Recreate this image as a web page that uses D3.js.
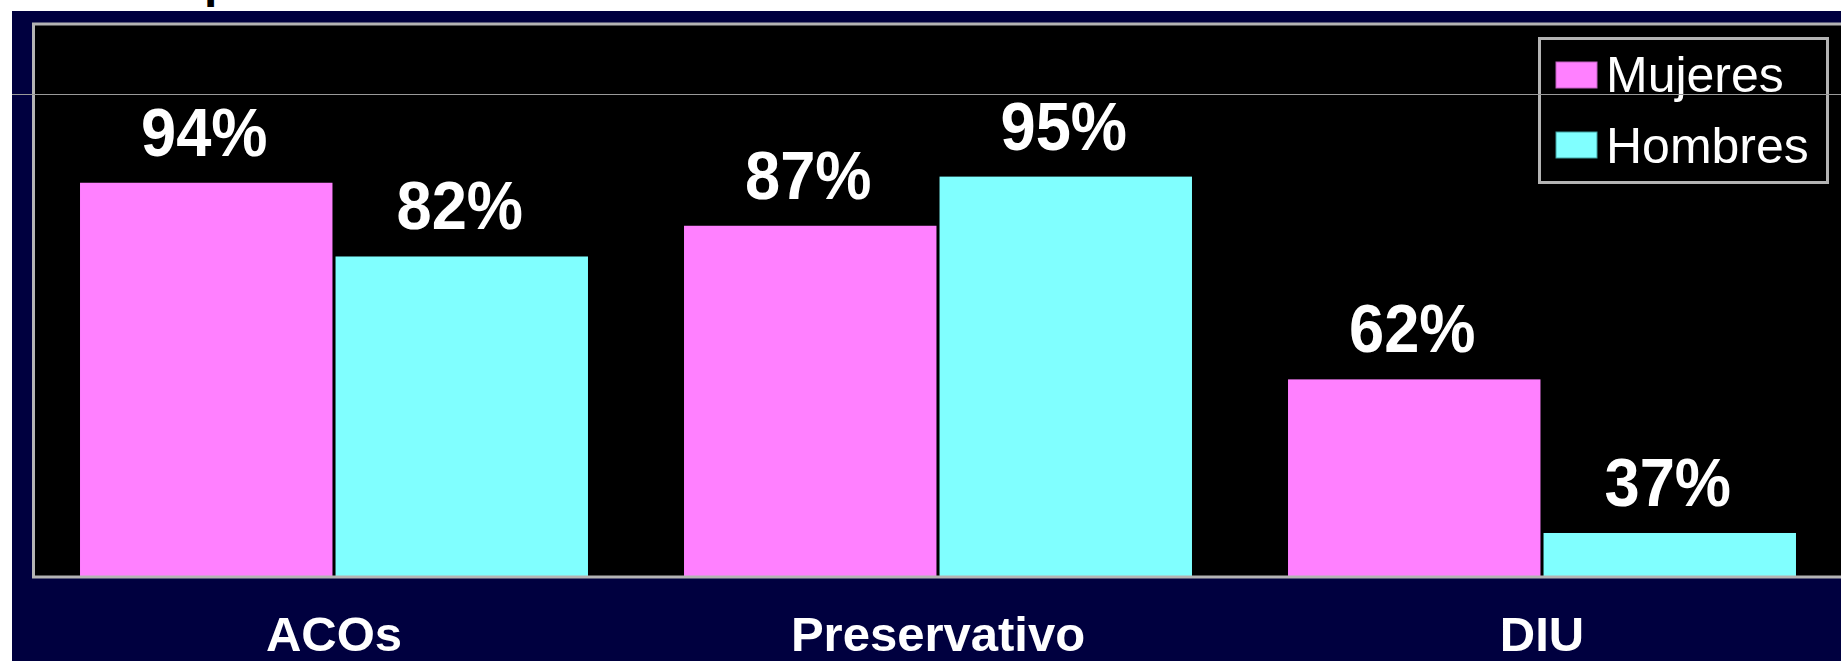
<!DOCTYPE html>
<html>
<head>
<meta charset="utf-8">
<script src="https://cdn.jsdelivr.net/npm/d3@7"></script>
<style>
  html, body { margin: 0; padding: 0; background: #ffffff; overflow: hidden; }
  svg { display: block; font-family: "Liberation Sans", Arial, sans-serif; }
</style>
</head>
<body>
<svg id="chart" width="1841" height="661"></svg>
<script>
// ---- data ----
const categories = ["ACOs", "Preservativo", "DIU"];
const seriesNames = ["Mujeres", "Hombres"];
const mujeres = [94, 87, 62];
const hombres = [82, 95, 37];
const valueLabels = [["94%", "87%", "62%"], ["82%", "95%", "37%"]];
const yDomain = [30, 120];

// ---- setup ----
const W = 1841, H = 661;
const colors = { Mujeres: "#ff80ff", Hombres: "#80ffff" };
const svg = d3.select("#chart");

// page backgrounds
svg.append("rect").attr("x", 0).attr("y", 0).attr("width", W).attr("height", H).attr("fill", "#ffffff");
// cut-off title descender
svg.append("text").attr("x", 204).attr("y", -3)
  .attr("font-size", 48).attr("font-weight", "bold").attr("fill", "#000").text("p");
svg.append("rect").attr("x", 12).attr("y", 11).attr("width", W - 12).attr("height", H - 11).attr("fill", "#00003f");

const plot = { left: 32, right: 1844, top: 23, bottom: 576 };

// plot area
svg.append("rect").attr("x", plot.left).attr("y", plot.top)
  .attr("width", plot.right - plot.left).attr("height", plot.bottom - plot.top)
  .attr("fill", "#000000");

const x0 = d3.scaleBand().domain(categories).range([plot.left, plot.right])
  .paddingInner(0.159).paddingOuter(0.0795);
const x1 = d3.scaleBand().domain(seriesNames).range([0, x0.bandwidth()]).paddingInner(0.012);
const y = d3.scaleLinear().domain(yDomain).range([plot.bottom, plot.top]);

const rows = categories.map((c, i) => ({ cat: c, vals: [
  { s: "Mujeres", v: mujeres[i], label: valueLabels[0][i] },
  { s: "Hombres", v: hombres[i], label: valueLabels[1][i] }
]}));

const groups = svg.append("g").selectAll("g").data(rows).join("g")
  .attr("transform", d => `translate(${x0(d.cat)},0)`);

groups.selectAll("rect").data(d => d.vals).join("rect")
  .attr("x", d => x1(d.s))
  .attr("y", d => y(d.v))
  .attr("width", x1.bandwidth())
  .attr("height", d => y(yDomain[0]) - y(d.v))
  .attr("fill", d => colors[d.s]);

groups.selectAll("text").data(d => d.vals).join("text")
  .attr("transform", d => `translate(${x1(d.s) + x1.bandwidth() / 2 - 2},${y(d.v) - 27}) scale(0.93,1)`)
  .attr("text-anchor", "middle")
  .attr("font-size", 68).attr("font-weight", "bold").attr("fill", "#ffffff")
  .text(d => d.label);

// plot border
svg.append("rect").attr("x", plot.left + 1.5).attr("y", plot.top + 1)
  .attr("width", plot.right - plot.left).attr("height", plot.bottom - plot.top)
  .attr("fill", "none").attr("stroke", "#b4b4b4").attr("stroke-width", 3);

// category axis
const xAxis = svg.append("g").attr("transform", `translate(0,${plot.bottom})`)
  .call(d3.axisBottom(x0).tickSize(0));
xAxis.select(".domain").remove();
xAxis.selectAll("text")
  .attr("y", 651 - plot.bottom).attr("dy", 0)
  .attr("font-family", "Liberation Sans, Arial, sans-serif")
  .attr("font-size", 49).attr("font-weight", "bold").attr("fill", "#ffffff");

// legend
const lg = svg.append("g");
lg.append("rect").attr("x", 1539.5).attr("y", 38.5).attr("width", 288).attr("height", 144)
  .attr("fill", "#000000").attr("stroke", "#b4b4b4").attr("stroke-width", 3);
const legendY = [62, 132];
const textY = [92, 163];
seriesNames.forEach((s, i) => {
  lg.append("rect").attr("x", 1556).attr("y", legendY[i]).attr("width", 41).attr("height", 26)
    .attr("fill", colors[s]).attr("stroke", i === 0 ? "#c060c0" : "#40a0a0").attr("stroke-width", 1);
  lg.append("text").attr("x", 1606).attr("y", textY[i])
    .attr("font-size", 50).attr("fill", "#ffffff").text(s);
});

// thin horizontal guide line
svg.append("line").attr("x1", 12).attr("x2", W).attr("y1", 94.5).attr("y2", 94.5)
  .attr("stroke", "#9a9a9a").attr("stroke-width", 1);
</script>
</body>
</html>
